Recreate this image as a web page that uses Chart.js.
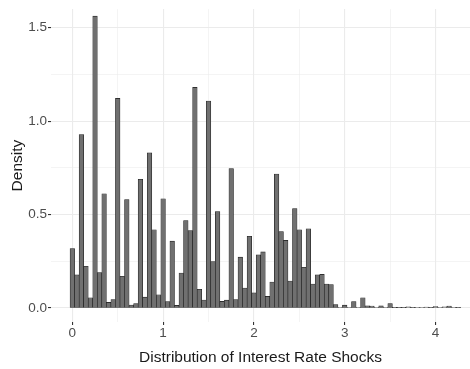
<!DOCTYPE html>
<html>
<head>
<meta charset="utf-8">
<script src="https://cdn.jsdelivr.net/npm/chart.js@4/dist/chart.umd.min.js"></script>
<style>
  html, body { margin: 0; padding: 0; background: #ffffff; }
  #wrap { width: 470px; height: 369px; }
</style>
</head>
<body>
<div id="wrap"><canvas id="c" width="470" height="369"></canvas></div>
<script>
// Histogram bins (width 0.05) of the simulated shocks
const binCenters = [
  0.00, 0.05, 0.10, 0.15, 0.20, 0.25, 0.30, 0.35, 0.40, 0.45,
  0.50, 0.55, 0.60, 0.65, 0.70, 0.75, 0.80, 0.85, 0.90, 0.95,
  1.00, 1.05, 1.10, 1.15, 1.20, 1.25, 1.30, 1.35, 1.40, 1.45,
  1.50, 1.55, 1.60, 1.65, 1.70, 1.75, 1.80, 1.85, 1.90, 1.95,
  2.00, 2.05, 2.10, 2.15, 2.20, 2.25, 2.30, 2.35, 2.40, 2.45,
  2.50, 2.55, 2.60, 2.65, 2.70, 2.75, 2.80, 2.85, 2.90, 2.95,
  3.00, 3.05, 3.10, 3.15, 3.20, 3.25, 3.30, 3.35, 3.40, 3.45,
  3.50, 3.55, 3.60, 3.65, 3.70, 3.75, 3.80, 3.85, 3.90, 3.95,
  4.00, 4.05, 4.10, 4.15, 4.20, 4.25
];
const density = [
  0.318, 0.177, 0.928, 0.223, 0.055, 1.562, 0.190, 0.611, 0.030, 0.045,
  1.122, 0.170, 0.580, 0.016, 0.023, 0.689, 0.058, 0.830, 0.419, 0.071,
  0.585, 0.034, 0.358, 0.014, 0.187, 0.468, 0.414, 1.181, 0.100, 0.043,
  1.108, 0.248, 0.516, 0.035, 0.042, 0.746, 0.045, 0.272, 0.107, 0.384,
  0.081, 0.284, 0.300, 0.062, 0.139, 0.717, 0.409, 0.362, 0.144, 0.532,
  0.419, 0.218, 0.424, 0.128, 0.177, 0.180, 0.128, 0.125, 0.018, 0.004,
  0.015, 0.004, 0.034, 0.004, 0.055, 0.012, 0.010, 0.003, 0.011, 0.003,
  0.024, 0.002, 0.002, 0.002, 0.006, 0.002, 0.004, 0.004, 0.005, 0.002,
  0.008, 0.003, 0.006, 0.010, 0.004, 0.002
];

const xMajorTicks = [0, 1, 2, 3, 4];
const xMinorTicks = [0.5, 1.5, 2.5, 3.5];
const yMajorTicks = [0, 0.5, 1.0, 1.5];
const yMinorTicks = [0.25, 0.75, 1.25];

const FONT = "'Liberation Sans', Arial, Helvetica, sans-serif";
const GRID = '#ebebeb';

const isMajor = (list, v) => list.some(t => Math.abs(t - v) < 1e-9);
const tickSet = (major, minor) => major.concat(minor).sort((a, b) => a - b).map(v => ({ value: v }));

const points = binCenters.map((x, i) => ({ x: x, y: density[i] }));

new Chart(document.getElementById('c'), {
  type: 'bar',
  data: {
    datasets: [{
      data: points,
      backgroundColor: '#707070',
      borderColor: '#1a1a1a',
      borderWidth: 0.6,
      borderSkipped: false,
      barPercentage: 1.0,
      categoryPercentage: 1.0
    }]
  },
  options: {
    responsive: false,
    animation: false,
    devicePixelRatio: 1,
    layout: { padding: 0 },
    plugins: {
      legend: { display: false },
      tooltip: { enabled: false }
    },
    scales: {
      x: {
        type: 'linear',
        min: -0.235,
        max: 4.38,
        offset: false,
        afterBuildTicks: s => { s.ticks = tickSet(xMajorTicks, xMinorTicks); },
        afterFit: s => { s.height = 47; },
        border: { display: false },
        grid: {
          offset: false,
          color: GRID,
          lineWidth: ctx => (ctx.tick && isMajor(xMajorTicks, ctx.tick.value)) ? 1.1 : 0.55,
          tickLength: 3,
          tickColor: ctx => (ctx.tick && isMajor(xMajorTicks, ctx.tick.value)) ? '#333333' : 'rgba(0,0,0,0)'
        },
        ticks: {
          autoSkip: false,
          maxRotation: 0,
          padding: 0,
          color: '#4d4d4d',
          font: { family: FONT, size: 13.5 },
          callback: v => isMajor(xMajorTicks, v) ? String(Math.round(v)) : ''
        },
        title: {
          display: true,
          text: 'Distribution of Interest Rate Shocks',
          color: '#1a1a1a',
          font: { family: FONT, size: 15.5 },
          padding: { top: 0, bottom: 2 }
        }
      },
      y: {
        type: 'linear',
        min: -0.075,
        max: 1.6,
        afterBuildTicks: s => { s.ticks = tickSet(yMajorTicks, yMinorTicks); },
        afterFit: s => { s.width = 51; },
        border: { display: false },
        grid: {
          color: GRID,
          lineWidth: ctx => (ctx.tick && isMajor(yMajorTicks, ctx.tick.value)) ? 1.1 : 0.55,
          tickLength: 3,
          tickColor: ctx => (ctx.tick && isMajor(yMajorTicks, ctx.tick.value)) ? '#333333' : 'rgba(0,0,0,0)'
        },
        ticks: {
          autoSkip: false,
          padding: 1,
          color: '#4d4d4d',
          font: { family: FONT, size: 13.5 },
          callback: v => isMajor(yMajorTicks, v) ? v.toFixed(1) : ''
        },
        title: {
          display: true,
          text: 'Density',
          color: '#1a1a1a',
          font: { family: FONT, size: 15.5 },
          padding: { top: 8, bottom: 0 }
        }
      }
    }
  }
});
</script>
</body>
</html>
